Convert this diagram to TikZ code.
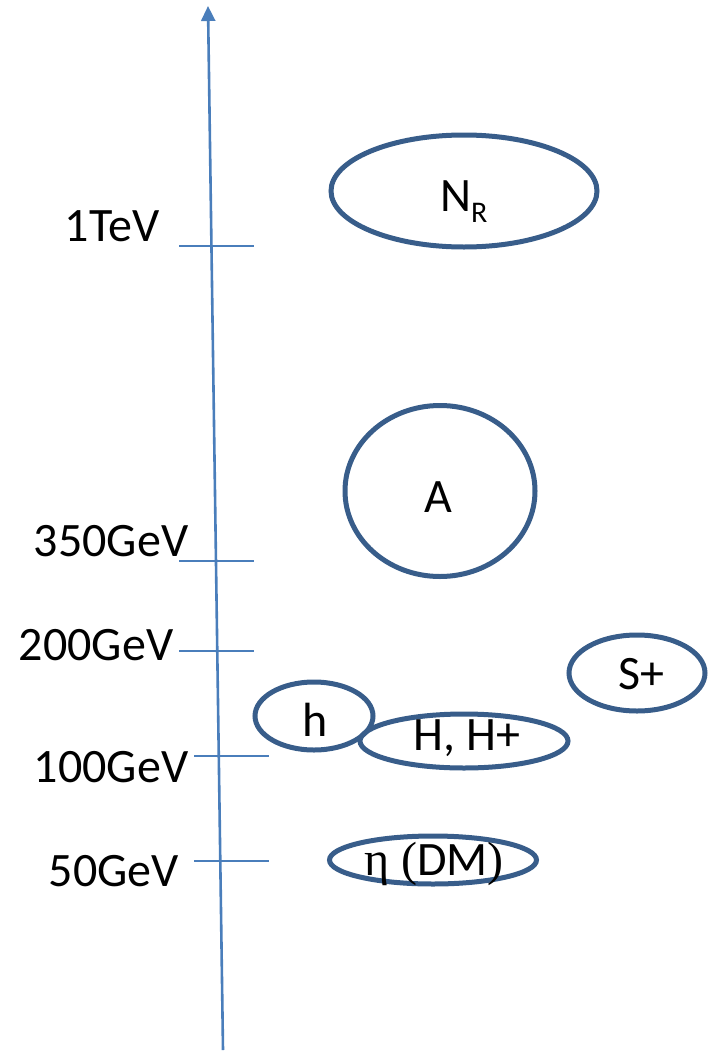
\documentclass[tikz,border=0pt]{standalone}
\usepackage{fontspec}
\setmainfont{Carlito}
\newfontfamily\serifeta{Liberation Serif}
\usetikzlibrary{shapes.geometric,arrows.meta}
\definecolor{axisblue}{RGB}{74,126,187}
\definecolor{ellblue}{RGB}{56,93,138}
\begin{document}
\begin{tikzpicture}[x=1pt,y=-1pt,
  axisline/.style={axisblue,line width=2.6pt},
  tickline/.style={axisblue,line width=2.4pt},
  particle/.style={ellipse,draw=ellblue,line width=5pt,inner sep=0pt},
  bigtext/.style={font=\fontsize{48}{57}\selectfont,inner sep=0pt,anchor=base}]
\useasboundingbox (0,0) rectangle (710,1052);
% axis
\coordinate (bot) at (223,1050);
\coordinate (top) at (208,6);
\draw[axisline,-{Triangle[length=15pt,width=14pt]}] (bot) -- (top);
% ticks
\coordinate (t1a) at (179,246); \coordinate (t1b) at (254,246);
\coordinate (t2a) at (179,561); \coordinate (t2b) at (254,561);
\coordinate (t3a) at (179,651); \coordinate (t3b) at (254,651);
\coordinate (t4a) at (194,756); \coordinate (t4b) at (269,756);
\coordinate (t5a) at (194,861); \coordinate (t5b) at (269,861);
\draw[tickline] (t1a) -- (t1b);
\draw[tickline] (t2a) -- (t2b);
\draw[tickline] (t3a) -- (t3b);
\draw[tickline] (t4a) -- (t4b);
\draw[tickline] (t5a) -- (t5b);
% scale labels
\node[bigtext] (l1) at (112,241) {1TeV};
\node[bigtext] (l2) at (111,556) {350GeV};
\node[bigtext] (l3) at (96,660) {200GeV};
\node[bigtext] (l4) at (111,782) {100GeV};
\node[bigtext] (l5) at (114,886) {50GeV};
% particles
\node[particle,minimum width=266pt,minimum height=112pt] (NR) at (464,191) {};
\node[particle,minimum width=190pt,minimum height=171pt] (A) at (440,491) {};
\node[particle,minimum width=136pt,minimum height=76pt] (S) at (637,673) {};
\node[particle,minimum width=118pt,minimum height=68pt] (h) at (314,716) {};
\node[particle,minimum width=208pt,minimum height=54pt] (H) at (464,741) {};
\node[particle,minimum width=207pt,minimum height=48pt] (eta) at (433,860) {};
% particle labels
\node[bigtext,anchor=base west] (NRt) at (440,211) {N\raisebox{-11pt}{\fontsize{30}{34}\selectfont R}};
\node[bigtext] (At) at (438,512) {A};
\node[bigtext] (St) at (641,689) {S+};
\node[bigtext] (ht) at (315,736) {h};
\node[bigtext] (Ht) at (467,750) {H, H+};
\node[bigtext] (etat) at (434,875) {{\serifeta η (}DM{\serifeta )}};
\end{tikzpicture}
\end{document}
